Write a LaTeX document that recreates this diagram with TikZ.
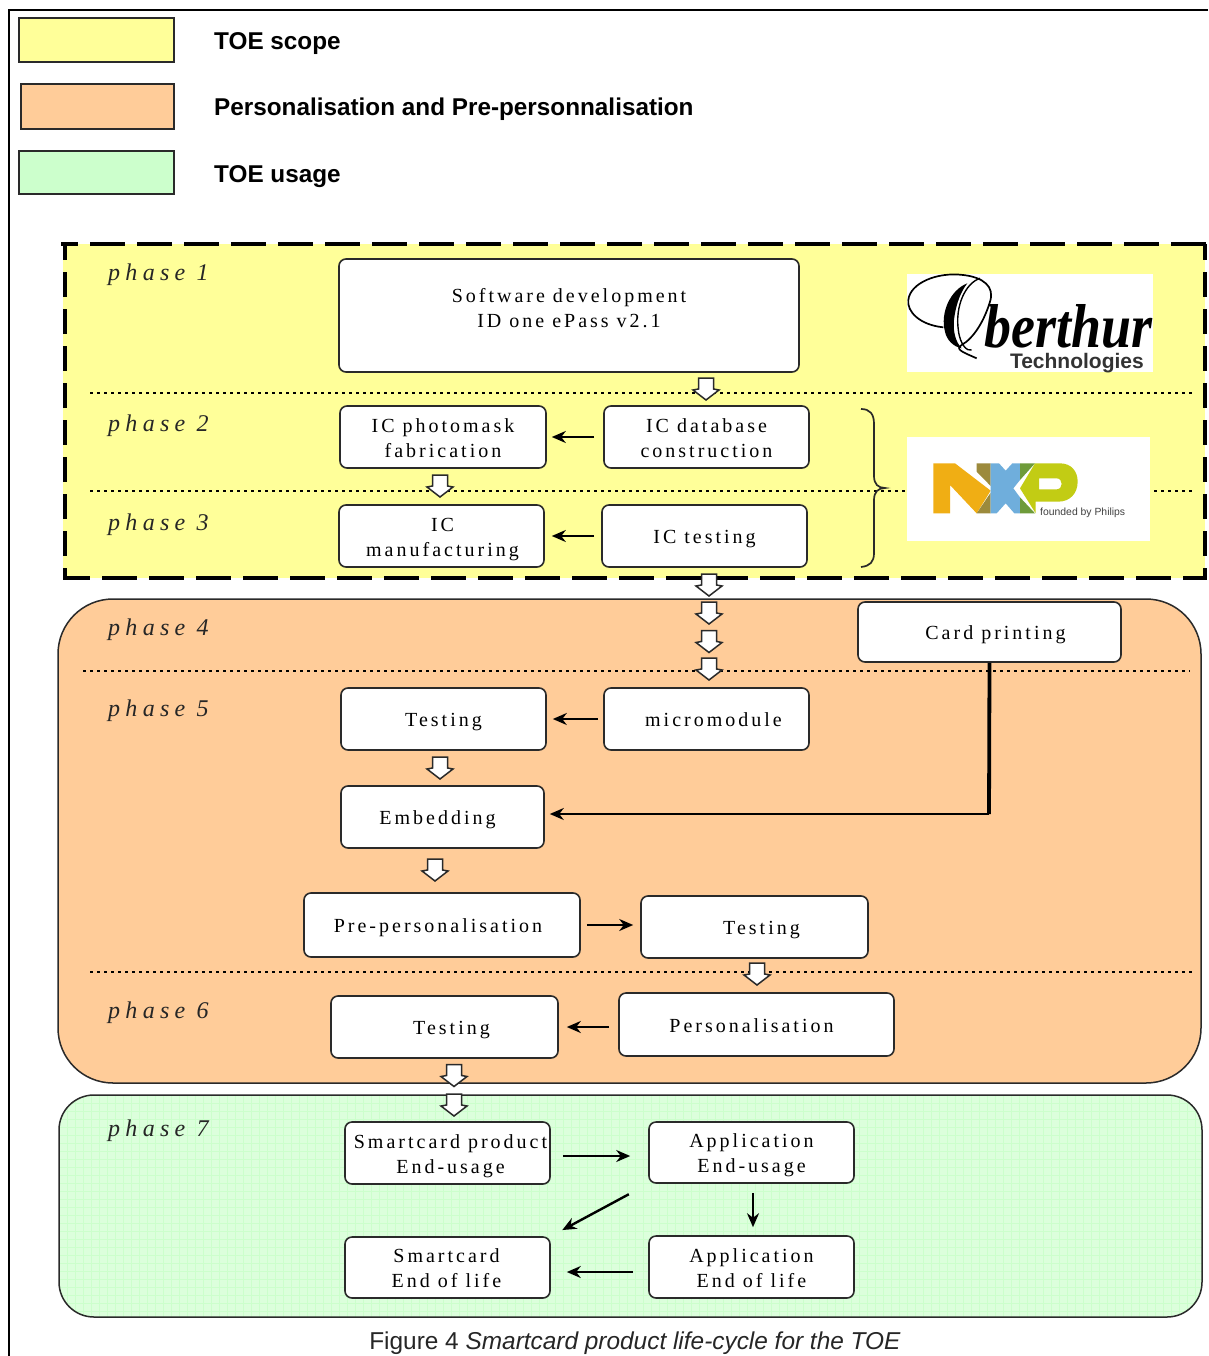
\documentclass[tikz,border=0pt]{standalone}
\usepackage{fontspec}
\usetikzlibrary{arrows.meta}
\setmainfont{Liberation Serif}
\newfontfamily\sansf{Liberation Sans}
\newfontfamily\boxf[LetterSpace=15]{Liberation Serif}
\newfontfamily\phasef[LetterSpace=22,ItalicFont={Liberation Serif Italic}]{Liberation Serif}
\definecolor{yel}{HTML}{FFFF99}
\definecolor{ora}{HTML}{FFCC99}
\definecolor{gre}{HTML}{CCFFCC}
\definecolor{grelight}{HTML}{DCFFDC}
\definecolor{edge}{HTML}{2A2A2A}
\tikzset{
  legendbox/.style={draw=edge,line width=1.3pt},
  legendtext/.style={anchor=west,inner sep=0pt,font=\sansf\bfseries\fontsize{24.3}{28}\selectfont},
  stepbox/.style={draw=edge,fill=white,line width=1.6pt,rounded corners=7pt,inner sep=0pt,
    font=\boxf\fontsize{20}{25}\selectfont},
  phaselabel/.style={anchor=base west,inner sep=0pt,font=\phasef\itshape\fontsize{24}{28}\selectfont,text=black!85},
  hollow/.style={draw=edge,fill=white,line width=1.5pt,line join=miter},
  conn/.style={line width=2.1pt,-{Stealth[length=14pt,width=12pt]}},
  phaseline/.style={line width=1.4pt,dash pattern=on 3pt off 4pt},
  regiondash/.style={line width=4pt},
}
\newcommand{\stepnode}[8]{%
  \node[stepbox,minimum width={#4-#2},minimum height={#5-#3}] (#1) at ({(#2+#4)/2},{(#3+#5)/2})
  {\makebox[0pt]{\hspace*{\dimexpr#6pt*2\relax}\raisebox{\dimexpr-8pt+#7pt\relax}[0pt][0pt]{%
    \setlength{\tabcolsep}{0pt}\begin{tabular}[c]{c}#8\end{tabular}}}};}
\newcommand{\hollowarrow}[3]{%
  \coordinate (#1) at (#2,#3);
  \draw[hollow] ([shift={(-7.5,-11)}]#1) -- ([shift={(7.5,-11)}]#1) -- ([shift={(7.5,0)}]#1) -- ([shift={(13,1)}]#1)
    -- ([shift={(0,11)}]#1) -- ([shift={(-13,1)}]#1) -- ([shift={(-7.5,0)}]#1) -- cycle;}
\begin{document}
\begin{tikzpicture}[x=1pt,y=-1pt]
\useasboundingbox (0,0) rectangle (1208,1356);
\fill[white] (0,0) rectangle (1208,1356);
% frame
\draw[line width=2.2pt] (1208,10) -- (9,10) -- (9,1356);
% legend
\node[legendbox,fill=yel,minimum width=155pt,minimum height=44pt,inner sep=0pt] (lg1) at (96.5,40) {};
\node[legendbox,fill=ora,minimum width=153pt,minimum height=45pt,inner sep=0pt] (lg2) at (97.5,106.5) {};
\node[legendbox,fill=gre,minimum width=155pt,minimum height=43pt,inner sep=0pt] (lg3) at (96.5,172.5) {};
\node[legendtext] (lt1) at (214,44) {TOE scope};
\node[legendtext] (lt2) at (214,109) {Personalisation and Pre-personnalisation};
\node[legendtext] (lt3) at (214,177) {TOE usage};
% regions
\fill[yel] (63,244) rectangle (1205,578);
\draw[regiondash,dash pattern=on 35pt off 12pt,dash phase=18pt] (61,244) -- (1207,244);
\draw[regiondash,dash pattern=on 35pt off 12pt,dash phase=8pt] (63,578) -- (1207,578);
\draw[regiondash,dash pattern=on 25pt off 12pt,dash phase=9pt] (65,244) -- (65,578);
\draw[regiondash,dash pattern=on 25pt off 12pt,dash phase=9pt] (1205,244) -- (1205,578);
\draw[draw=edge,fill=ora,line width=1.5pt,rounded corners=55pt] (58,599) rectangle (1201,1083);
\begin{scope}
\clip[rounded corners=35pt] (59,1095) rectangle (1202,1317);
\fill[grelight] (59,1095) rectangle (1202,1317);
\foreach \gx in {59,67,...,1202} \draw[gre,line width=.9pt] (\gx,1095) -- (\gx,1317);
\foreach \gy in {1095,1103,...,1317} \draw[gre,line width=.9pt] (59,\gy) -- (1202,\gy);
\end{scope}
\draw[draw=edge,line width=1.5pt,rounded corners=35pt] (59,1095) rectangle (1202,1317);
% phase separators
\draw[phaseline] (90,393) -- (1192,393);
\draw[phaseline] (90,491) -- (1192,491);
\draw[phaseline] (83,671) -- (1190,671);
\draw[phaseline,line width=2pt] (90,972) -- (1192,972);
% brace
\draw[draw=edge,line width=1.7pt] (861,409) .. controls (870,409) and (874,414) .. (874,424) -- (874,476)
  .. controls (874,484) and (878,488) .. (885,488) .. controls (878,488) and (874,492) .. (874,500) -- (874,553)
  .. controls (874,562) and (870,566) .. (861,567);
% phase labels
\node[phaselabel] (p1) at (108,280) {phase 1};
\node[phaselabel] (p2) at (108,431) {phase 2};
\node[phaselabel] (p3) at (108,530) {phase 3};
\node[phaselabel] (p4) at (108,635) {phase 4};
\node[phaselabel] (p5) at (108,716) {phase 5};
\node[phaselabel] (p6) at (108,1018) {phase 6};
\node[phaselabel] (p7) at (108,1136) {phase 7};
% Oberthur logo
\fill[white] (907,274) rectangle (1153,372);
\begin{scope}[shift={(880,250)},x=.3333pt,y=-.3333pt]
\draw[line width=1.7pt] (190,232) .. controls (120,225) and (80,185) .. (85,150)
  .. controls (90,100) and (170,65) .. (250,75) .. controls (310,82) and (345,110) .. (330,155)
  .. controls (312,215) and (280,265) .. (245,285) .. controls (225,298) and (245,305) .. (290,325);
\draw[line width=1.4pt] (300,85) .. controls (255,100) and (225,170) .. (235,240) .. controls (240,285) and (262,305) .. (275,300);
\fill (262,100) .. controls (210,120) and (180,190) .. (195,245) .. controls (200,270) and (220,290) .. (245,295)
  .. controls (226,275) and (216,240) .. (224,195) .. controls (230,160) and (242,125) .. (262,100) -- cycle;
\end{scope}
\node[inner sep=0pt,anchor=base west,font=\itshape\bfseries\fontsize{62}{62}\selectfont,xscale=.87] (ob) at (984,347) {berthur};
\node[inner sep=0pt,anchor=base east,font=\sansf\bfseries\fontsize{21}{22}\selectfont,text=black!80] (obt) at (1144,368) {Technologies};
% NXP logo
\fill[white] (907,437) rectangle (1150,541);
\begin{scope}[shift={(925,450)},x=.3333pt,y=-.3333pt]
\definecolor{nxo}{HTML}{F0AE14}\definecolor{nxb}{HTML}{9C8A3C}\definecolor{nxl}{HTML}{6FAEDC}
\definecolor{nxg}{HTML}{6E9B3A}\definecolor{nxp}{HTML}{C2CC14}
\fill[nxo] (25,40) -- (90,40) -- (197,122) -- (155,190) -- (75,105) -- (75,190) -- (25,190) -- cycle;
\fill[nxb] (155,40) -- (197,40) -- (197,108) -- (155,65) -- cycle;
\fill[nxb] (197,128) -- (197,190) -- (155,190) -- cycle;
\fill[nxl] (197,40) -- (222,40) -- (242,62) -- (262,40) -- (285,40) -- (285,90) -- (265,115) -- (285,142) -- (285,190)
  -- (268,190) -- (242,160) -- (215,190) -- (197,190) -- (197,122) -- (197,108) -- cycle;
\fill[nxg] (285,40) -- (330,40) -- (285,90) -- cycle;
\fill[nxg] (285,142) -- (330,190) -- (285,190) -- cycle;
\fill[nxp,even odd rule] (330,40) -- (405,40) .. controls (440,40) and (458,65) .. (458,95) .. controls (458,130) and (435,155) .. (400,155)
  -- (332,155) -- (332,190) -- (285,115) -- cycle
  (342,85) -- (395,85) .. controls (415,85) and (415,118) .. (395,118) -- (342,118) -- cycle;
\end{scope}
\node[inner sep=0pt,anchor=base west,font=\sansf\fontsize{10.4}{12}\selectfont,text=black!75] (nxf) at (1040,515) {founded by Philips};
% boxes
\stepnode{sw}{339}{259}{799}{372}{0}{8}{Software development\\ID one ePass v2.1}
\stepnode{pm}{340}{406}{546}{468}{0}{0}{IC photomask\\fabrication}
\stepnode{db}{604}{406}{809}{468}{0}{0}{IC database\\construction}
\stepnode{icm}{339}{505}{544}{567}{1}{0}{IC\\manufacturing}
\stepnode{ict}{602}{505}{807}{567}{0}{0}{IC testing}
\stepnode{card}{858}{602}{1121}{662}{6}{0}{Card printing}
\stepnode{tfive}{341}{688}{546}{750}{0}{0}{Testing}
\stepnode{micro}{604}{688}{809}{750}{7}{0}{micromodule}
\stepnode{emb}{341}{786}{544}{848}{-5}{0}{Embedding}
\stepnode{pre}{304}{893}{580}{957}{-4}{0}{Pre-personalisation}
\stepnode{tpre}{641}{896}{868}{958}{7}{0}{Testing}
\stepnode{tsix}{331}{996}{558}{1058}{7}{0}{Testing}
\stepnode{pers}{619}{993}{894}{1056}{-5}{0}{Personalisation}
\stepnode{sp}{345}{1122}{550}{1184}{3}{0}{Smartcard product\\End-usage}
\stepnode{appl}{649}{1122}{854}{1183}{0}{0}{Application\\End-usage}
\stepnode{scl}{345}{1237}{550}{1298}{-1}{0}{Smartcard\\End of life}
\stepnode{al}{649}{1236}{854}{1298}{0}{0}{Application\\End of life}
% hollow arrows
\hollowarrow{h1}{706}{389}
\hollowarrow{h2}{440}{486}
\hollowarrow{h3}{709}{585}
\hollowarrow{h4}{709}{613}
\hollowarrow{h5}{709}{641.5}
\hollowarrow{h6}{709}{669}
\hollowarrow{h7}{440}{768}
\hollowarrow{h8}{435}{870}
\hollowarrow{h9}{757}{974}
\hollowarrow{h10}{454}{1075.5}
\hollowarrow{h11}{454}{1105}
% connectors
\draw[conn,shorten <=9pt,shorten >=5pt] (db.west) -- (pm.east);
\draw[conn,shorten <=7pt,shorten >=7pt] (ict.west) -- (icm.east);
\draw[conn,shorten <=5pt,shorten >=6pt] (micro.west) -- (tfive.east);
\coordinate (cardturn) at (989,814);
\draw[line width=3.8pt] (card.south) -- (cardturn);
\draw[conn] (cardturn) -- ([xshift=5pt]cardturn -| emb.east);
\draw[conn,shorten <=6pt,shorten >=7pt] (pre.east) -- (tpre.west |- pre.east);
\draw[conn,line width=2.8pt,shorten <=9pt,shorten >=8pt] (pers.west |- tsix.east) -- (tsix.east);
\draw[conn,shorten <=12pt,shorten >=18pt] ([yshift=-3pt]sp.east) -- ([yshift=-3pt]appl.west |- sp.east);
\draw[conn,line width=2.4pt,shorten <=22pt,shorten >=13pt] (appl.south west) -- (scl.north east);
\draw[conn,shorten <=9pt,shorten >=8pt] ([xshift=1.5pt]appl.south) -- ([xshift=1.5pt]al.north);
\draw[conn,shorten <=15pt,shorten >=16pt] ([yshift=-5pt]al.west) -- ([yshift=-4.5pt]scl.east);
% caption
\node[inner sep=0pt,anchor=base,font=\sansf\fontsize{24.4}{26}\selectfont,text=black!85] (cap) at (635,1349) {Figure 4 \textit{Smartcard product life-cycle for the TOE}};
\end{tikzpicture}
\end{document}
